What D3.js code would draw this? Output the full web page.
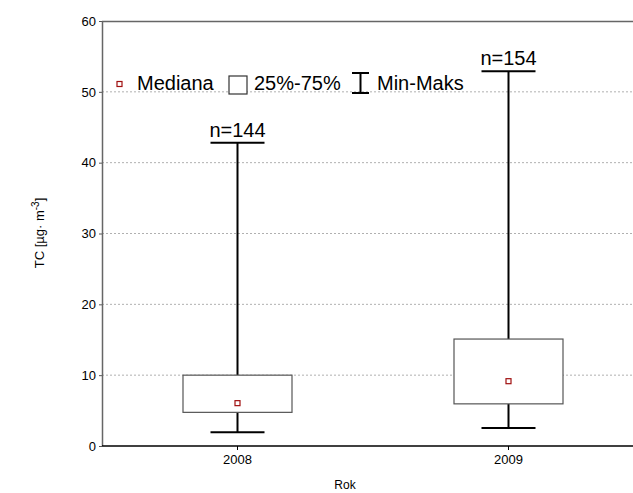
<!DOCTYPE html>
<html><head><meta charset="utf-8">
<script src="https://cdn.jsdelivr.net/npm/d3@7"></script>
<style>body{margin:0;background:#fff}svg{display:block;font-family:"Liberation Sans",Arial,sans-serif}</style>
</head><body><svg id="c" width="633" height="493"></svg>
<script>
const categories = ["2008", "2009"];
const minVals = [1.95, 2.55];
const q1Vals = [4.75, 5.95];
const medianVals = [6.05, 9.15];
const q3Vals = [10.0, 15.1];
const maxVals = [42.8, 52.9];
const nLabels = ["n=144", "n=154"];
const yTicks = [0, 10, 20, 30, 40, 50, 60];

const svg = d3.select("#c");
const L = 102, T = 21, B = 446, R = 644;
const x = d3.scaleBand().domain(categories).range([L, R]).padding(0);
const y = d3.scaleLinear().domain([0, 60]).range([B, T]);
const cx = c => x(c) + x.bandwidth() / 2;

// grid
svg.append("g").selectAll("line").data(yTicks.filter(v => v > 0 && v < 60)).join("line")
  .attr("x1", L).attr("x2", 633).attr("y1", d => y(d)).attr("y2", d => y(d))
  .attr("stroke", "#b0b0b0").attr("stroke-dasharray", "2,2").attr("stroke-width", 1);

// y axis
const ya = svg.append("g").attr("transform", `translate(${L},0)`)
  .call(d3.axisLeft(y).tickValues(yTicks).tickSize(3).tickPadding(3));
ya.select(".domain").remove();
ya.selectAll(".tick line").attr("stroke", "#555");
ya.selectAll("text").attr("font-size", 13).attr("fill", "#000").attr("font-family", "Liberation Sans, Arial");
// x axis
const xa = svg.append("g").attr("transform", `translate(0,${B})`)
  .call(d3.axisBottom(x).tickSize(4).tickPadding(5));
xa.select(".domain").remove();
xa.selectAll(".tick line").attr("stroke", "#000");
xa.selectAll("text").attr("font-size", 13).attr("fill", "#000").attr("font-family", "Liberation Sans, Arial");

// frame
svg.append("line").attr("x1", L + 0.5).attr("x2", L + 0.5).attr("y1", T).attr("y2", B).attr("stroke", "#666").attr("stroke-width", 1.5);
svg.append("line").attr("x1", L).attr("x2", 633).attr("y1", T + 0.5).attr("y2", T + 0.5).attr("stroke", "#666").attr("stroke-width", 1.5);
svg.append("line").attr("x1", L).attr("x2", 633).attr("y1", B).attr("y2", B).attr("stroke", "#000").attr("stroke-width", 1.5);

const bw = 109, capW = 54;
const g = svg.append("g").selectAll("g").data(categories).join("g");
// whiskers
g.append("line").attr("x1", cx).attr("x2", cx).attr("y1", (d, i) => y(maxVals[i])).attr("y2", (d, i) => y(q3Vals[i])).attr("stroke", "#000").attr("stroke-width", 2);
g.append("line").attr("x1", cx).attr("x2", cx).attr("y1", (d, i) => y(q1Vals[i])).attr("y2", (d, i) => y(minVals[i])).attr("stroke", "#000").attr("stroke-width", 2);
g.append("line").attr("x1", d => cx(d) - capW / 2).attr("x2", d => cx(d) + capW / 2).attr("y1", (d, i) => y(maxVals[i])).attr("y2", (d, i) => y(maxVals[i])).attr("stroke", "#000").attr("stroke-width", 2);
g.append("line").attr("x1", d => cx(d) - capW / 2).attr("x2", d => cx(d) + capW / 2).attr("y1", (d, i) => y(minVals[i])).attr("y2", (d, i) => y(minVals[i])).attr("stroke", "#000").attr("stroke-width", 2);
// box
g.append("rect").attr("x", d => cx(d) - bw / 2).attr("width", bw)
  .attr("y", (d, i) => y(q3Vals[i])).attr("height", (d, i) => y(q1Vals[i]) - y(q3Vals[i]))
  .attr("fill", "#fff").attr("stroke", "#555").attr("stroke-width", 1.2);
// median
g.append("rect").attr("x", d => cx(d) - 2.5).attr("y", (d, i) => y(medianVals[i]) - 2.5).attr("width", 5).attr("height", 5)
  .attr("fill", "#fff").attr("stroke", "#a01010").attr("stroke-width", 1.2);
// n labels
g.append("text").attr("x", cx).attr("y", (d, i) => y(maxVals[i]) - 6).attr("text-anchor", "middle")
  .attr("font-size", 20).text((d, i) => nLabels[i]);

// legend
const lg = svg.append("g");
const ly = 84;
lg.append("rect").attr("x", 117).attr("y", ly - 2.5).attr("width", 5).attr("height", 5).attr("fill", "#fff").attr("stroke", "#a01010").attr("stroke-width", 1.2);
lg.append("text").attr("x", 137).attr("y", 89.5).attr("font-size", 20).text("Mediana");
lg.append("rect").attr("x", 229).attr("y", 76).attr("width", 18).attr("height", 18).attr("fill", "#fff").attr("stroke", "#333").attr("stroke-width", 1.2);
lg.append("text").attr("x", 254).attr("y", 89.5).attr("font-size", 20).text("25%-75%");
lg.append("line").attr("x1", 352).attr("x2", 369).attr("y1", 73).attr("y2", 73).attr("stroke", "#000").attr("stroke-width", 2);
lg.append("line").attr("x1", 352).attr("x2", 369).attr("y1", 93).attr("y2", 93).attr("stroke", "#000").attr("stroke-width", 2);
lg.append("line").attr("x1", 360.5).attr("x2", 360.5).attr("y1", 73).attr("y2", 93).attr("stroke", "#000").attr("stroke-width", 2);
lg.append("text").attr("x", 377).attr("y", 89.5).attr("font-size", 20).text("Min-Maks");

// axis titles
svg.append("text").attr("x", 345).attr("y", 489).attr("text-anchor", "middle").attr("font-size", 12).text("Rok");
const yt = svg.append("text").attr("transform", "translate(44,233) rotate(-90)").attr("text-anchor", "middle").attr("font-size", 13);
yt.append("tspan").text("TC [µg· m");
yt.append("tspan").attr("dy", -5).attr("font-size", 10).text("-3");
yt.append("tspan").attr("dy", 5).text("]");
</script></body></html>
